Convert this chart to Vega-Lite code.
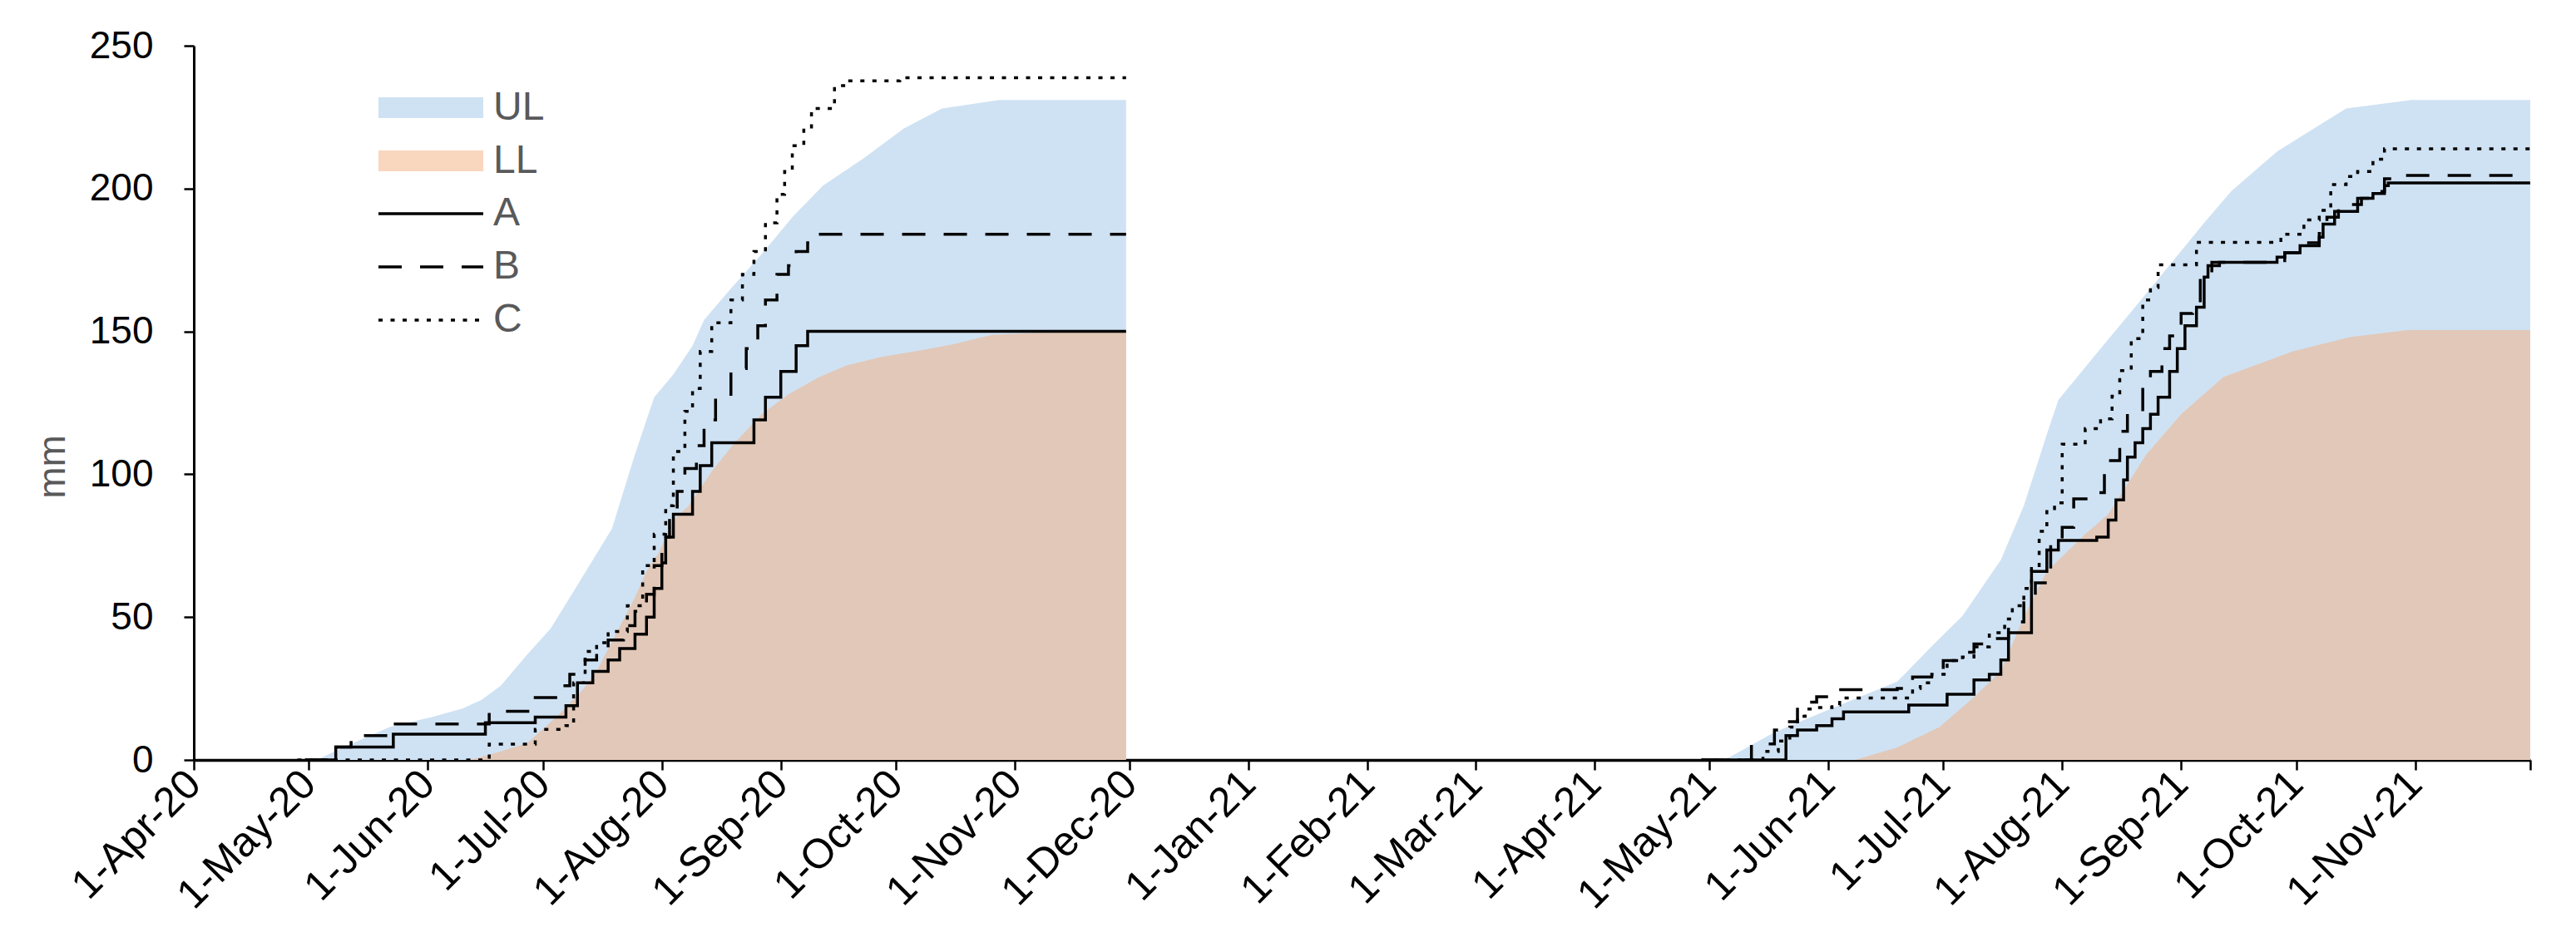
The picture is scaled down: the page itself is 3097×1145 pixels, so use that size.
{
  "$schema": "https://vega.github.io/schema/vega-lite/v6.json",
  "autosize": {"type": "none"},
  "width": 2809,
  "height": 859,
  "padding": {"left": 233, "top": 55, "right": 55, "bottom": 231},
  "background": "white",
  "config": {
    "view": {"stroke": null},
    "font": "Liberation Sans"
  },
  "data": {"values": [
    {"s":"UL","g":1,"t":"2020-05-03","v":0},{"s":"UL","g":1,"t":"2020-05-11","v":5},{"s":"UL","g":1,"t":"2020-05-22","v":11.5},{"s":"UL","g":1,"t":"2020-06-02","v":15},{"s":"UL","g":1,"t":"2020-06-10","v":18},{"s":"UL","g":1,"t":"2020-06-15","v":21},{"s":"UL","g":1,"t":"2020-06-20","v":26},{"s":"UL","g":1,"t":"2020-06-27","v":37},{"s":"UL","g":1,"t":"2020-07-03","v":46},{"s":"UL","g":1,"t":"2020-07-09","v":59},{"s":"UL","g":1,"t":"2020-07-14","v":70},{"s":"UL","g":1,"t":"2020-07-19","v":81},{"s":"UL","g":1,"t":"2020-07-25","v":107},{"s":"UL","g":1,"t":"2020-07-30","v":127},{"s":"UL","g":1,"t":"2020-08-04","v":135},{"s":"UL","g":1,"t":"2020-08-09","v":145},{"s":"UL","g":1,"t":"2020-08-12","v":154},{"s":"UL","g":1,"t":"2020-08-19","v":165},{"s":"UL","g":1,"t":"2020-08-27","v":177},{"s":"UL","g":1,"t":"2020-09-04","v":190},{"s":"UL","g":1,"t":"2020-09-12","v":201},{"s":"UL","g":1,"t":"2020-09-23","v":211},{"s":"UL","g":1,"t":"2020-10-03","v":221},{"s":"UL","g":1,"t":"2020-10-13","v":228},{"s":"UL","g":1,"t":"2020-10-28","v":231},{"s":"UL","g":1,"t":"2020-11-30","v":231},
    {"s":"LL","g":1,"t":"2020-06-12","v":0},{"s":"LL","g":1,"t":"2020-06-20","v":3},{"s":"LL","g":1,"t":"2020-06-27","v":6},{"s":"LL","g":1,"t":"2020-07-02","v":12},{"s":"LL","g":1,"t":"2020-07-06","v":17},{"s":"LL","g":1,"t":"2020-07-11","v":24},{"s":"LL","g":1,"t":"2020-07-15","v":31},{"s":"LL","g":1,"t":"2020-07-20","v":44},{"s":"LL","g":1,"t":"2020-07-25","v":57},{"s":"LL","g":1,"t":"2020-07-28","v":66},{"s":"LL","g":1,"t":"2020-07-31","v":72},{"s":"LL","g":1,"t":"2020-08-04","v":84},{"s":"LL","g":1,"t":"2020-08-08","v":89},{"s":"LL","g":1,"t":"2020-08-14","v":101},{"s":"LL","g":1,"t":"2020-08-20","v":111},{"s":"LL","g":1,"t":"2020-08-27","v":121},{"s":"LL","g":1,"t":"2020-09-03","v":128},{"s":"LL","g":1,"t":"2020-09-11","v":134},{"s":"LL","g":1,"t":"2020-09-18","v":138},{"s":"LL","g":1,"t":"2020-09-27","v":141},{"s":"LL","g":1,"t":"2020-10-08","v":143.5},{"s":"LL","g":1,"t":"2020-10-16","v":145.5},{"s":"LL","g":1,"t":"2020-10-26","v":148.8},{"s":"LL","g":1,"t":"2020-11-07","v":149.5},{"s":"LL","g":1,"t":"2020-11-30","v":150},
    {"s":"UL","g":2,"t":"2021-05-05","v":0},{"s":"UL","g":2,"t":"2021-05-18","v":9.7},{"s":"UL","g":2,"t":"2021-06-03","v":18.6},{"s":"UL","g":2,"t":"2021-06-19","v":27.4},{"s":"UL","g":2,"t":"2021-06-28","v":39.8},{"s":"UL","g":2,"t":"2021-07-06","v":50.4},{"s":"UL","g":2,"t":"2021-07-16","v":70},{"s":"UL","g":2,"t":"2021-07-22","v":89},{"s":"UL","g":2,"t":"2021-07-28","v":114},{"s":"UL","g":2,"t":"2021-07-31","v":126},{"s":"UL","g":2,"t":"2021-08-11","v":144},{"s":"UL","g":2,"t":"2021-08-24","v":165},{"s":"UL","g":2,"t":"2021-09-07","v":188},{"s":"UL","g":2,"t":"2021-09-14","v":199},{"s":"UL","g":2,"t":"2021-09-26","v":213},{"s":"UL","g":2,"t":"2021-10-14","v":228},{"s":"UL","g":2,"t":"2021-10-31","v":231},{"s":"UL","g":2,"t":"2021-12-01","v":231},
    {"s":"LL","g":2,"t":"2021-06-08","v":0},{"s":"LL","g":2,"t":"2021-06-19","v":4.4},{"s":"LL","g":2,"t":"2021-06-30","v":11.5},{"s":"LL","g":2,"t":"2021-07-09","v":22},{"s":"LL","g":2,"t":"2021-07-16","v":31},{"s":"LL","g":2,"t":"2021-07-22","v":50},{"s":"LL","g":2,"t":"2021-07-28","v":66},{"s":"LL","g":2,"t":"2021-08-07","v":79},{"s":"LL","g":2,"t":"2021-08-13","v":86},{"s":"LL","g":2,"t":"2021-08-23","v":107},{"s":"LL","g":2,"t":"2021-09-01","v":121},{"s":"LL","g":2,"t":"2021-09-12","v":134},{"s":"LL","g":2,"t":"2021-09-30","v":143},{"s":"LL","g":2,"t":"2021-10-15","v":148},{"s":"LL","g":2,"t":"2021-10-30","v":150.5},{"s":"LL","g":2,"t":"2021-12-01","v":150.5},
    {"s":"A","g":1,"t":"2020-04-30","v":0},{"s":"A","g":1,"t":"2020-05-08","v":4.5},{"s":"A","g":1,"t":"2020-05-23","v":9},{"s":"A","g":1,"t":"2020-06-16","v":13},{"s":"A","g":1,"t":"2020-06-29","v":15},{"s":"A","g":1,"t":"2020-07-07","v":19},{"s":"A","g":1,"t":"2020-07-10","v":27},{"s":"A","g":1,"t":"2020-07-14","v":31},{"s":"A","g":1,"t":"2020-07-18","v":35},{"s":"A","g":1,"t":"2020-07-21","v":39},{"s":"A","g":1,"t":"2020-07-25","v":44},{"s":"A","g":1,"t":"2020-07-28","v":50},{"s":"A","g":1,"t":"2020-07-30","v":60},{"s":"A","g":1,"t":"2020-08-01","v":69},{"s":"A","g":1,"t":"2020-08-02","v":78},{"s":"A","g":1,"t":"2020-08-04","v":86},{"s":"A","g":1,"t":"2020-08-09","v":94},{"s":"A","g":1,"t":"2020-08-11","v":103},{"s":"A","g":1,"t":"2020-08-14","v":111},{"s":"A","g":1,"t":"2020-08-25","v":119},{"s":"A","g":1,"t":"2020-08-28","v":127},{"s":"A","g":1,"t":"2020-09-01","v":136},{"s":"A","g":1,"t":"2020-09-05","v":145},{"s":"A","g":1,"t":"2020-09-08","v":150},{"s":"A","g":1,"t":"2020-11-30","v":150},
    {"s":"B","g":1,"t":"2020-04-30","v":0},{"s":"B","g":1,"t":"2020-05-08","v":4.5},{"s":"B","g":1,"t":"2020-05-12","v":8.5},{"s":"B","g":1,"t":"2020-05-23","v":12.6},{"s":"B","g":1,"t":"2020-06-17","v":17},{"s":"B","g":1,"t":"2020-06-29","v":21.8},{"s":"B","g":1,"t":"2020-07-06","v":26},{"s":"B","g":1,"t":"2020-07-08","v":30},{"s":"B","g":1,"t":"2020-07-12","v":35},{"s":"B","g":1,"t":"2020-07-15","v":39},{"s":"B","g":1,"t":"2020-07-18","v":42},{"s":"B","g":1,"t":"2020-07-22","v":47},{"s":"B","g":1,"t":"2020-07-25","v":52},{"s":"B","g":1,"t":"2020-07-28","v":58},{"s":"B","g":1,"t":"2020-07-30","v":68},{"s":"B","g":1,"t":"2020-08-01","v":78},{"s":"B","g":1,"t":"2020-08-03","v":86},{"s":"B","g":1,"t":"2020-08-05","v":94},{"s":"B","g":1,"t":"2020-08-07","v":102},{"s":"B","g":1,"t":"2020-08-10","v":110},{"s":"B","g":1,"t":"2020-08-12","v":119},{"s":"B","g":1,"t":"2020-08-15","v":128},{"s":"B","g":1,"t":"2020-08-19","v":137},{"s":"B","g":1,"t":"2020-08-23","v":144},{"s":"B","g":1,"t":"2020-08-26","v":152},{"s":"B","g":1,"t":"2020-08-28","v":161},{"s":"B","g":1,"t":"2020-08-31","v":170},{"s":"B","g":1,"t":"2020-09-03","v":173},{"s":"B","g":1,"t":"2020-09-05","v":178},{"s":"B","g":1,"t":"2020-09-08","v":181},{"s":"B","g":1,"t":"2020-09-10","v":184},{"s":"B","g":1,"t":"2020-11-30","v":184},
    {"s":"C","g":1,"t":"2020-04-28","v":0},{"s":"C","g":1,"t":"2020-06-17","v":5.5},{"s":"C","g":1,"t":"2020-06-29","v":10.7},{"s":"C","g":1,"t":"2020-07-07","v":12},{"s":"C","g":1,"t":"2020-07-09","v":27},{"s":"C","g":1,"t":"2020-07-12","v":38},{"s":"C","g":1,"t":"2020-07-15","v":41},{"s":"C","g":1,"t":"2020-07-18","v":45},{"s":"C","g":1,"t":"2020-07-23","v":54},{"s":"C","g":1,"t":"2020-07-27","v":68},{"s":"C","g":1,"t":"2020-07-30","v":79},{"s":"C","g":1,"t":"2020-08-02","v":89},{"s":"C","g":1,"t":"2020-08-04","v":108},{"s":"C","g":1,"t":"2020-08-07","v":122},{"s":"C","g":1,"t":"2020-08-09","v":130},{"s":"C","g":1,"t":"2020-08-11","v":143},{"s":"C","g":1,"t":"2020-08-14","v":153},{"s":"C","g":1,"t":"2020-08-19","v":161},{"s":"C","g":1,"t":"2020-08-22","v":170},{"s":"C","g":1,"t":"2020-08-25","v":178},{"s":"C","g":1,"t":"2020-08-28","v":188},{"s":"C","g":1,"t":"2020-08-31","v":198},{"s":"C","g":1,"t":"2020-09-02","v":206},{"s":"C","g":1,"t":"2020-09-04","v":215},{"s":"C","g":1,"t":"2020-09-07","v":221},{"s":"C","g":1,"t":"2020-09-09","v":228},{"s":"C","g":1,"t":"2020-09-15","v":236},{"s":"C","g":1,"t":"2020-09-18","v":237.7},{"s":"C","g":1,"t":"2020-10-02","v":238.8},{"s":"C","g":1,"t":"2020-11-30","v":238.8},
    {"s":"A","g":2,"t":"2021-04-29","v":0},{"s":"A","g":2,"t":"2021-05-21","v":8.5},{"s":"A","g":2,"t":"2021-05-24","v":10.5},{"s":"A","g":2,"t":"2021-05-29","v":12},{"s":"A","g":2,"t":"2021-06-02","v":14.4},{"s":"A","g":2,"t":"2021-06-05","v":16.8},{"s":"A","g":2,"t":"2021-06-22","v":19.2},{"s":"A","g":2,"t":"2021-07-02","v":23},{"s":"A","g":2,"t":"2021-07-09","v":28},{"s":"A","g":2,"t":"2021-07-13","v":30},{"s":"A","g":2,"t":"2021-07-16","v":35},{"s":"A","g":2,"t":"2021-07-18","v":44.5},{"s":"A","g":2,"t":"2021-07-24","v":66},{"s":"A","g":2,"t":"2021-07-28","v":73.5},{"s":"A","g":2,"t":"2021-07-31","v":76.8},{"s":"A","g":2,"t":"2021-08-10","v":78},{"s":"A","g":2,"t":"2021-08-13","v":84},{"s":"A","g":2,"t":"2021-08-15","v":91},{"s":"A","g":2,"t":"2021-08-17","v":98},{"s":"A","g":2,"t":"2021-08-18","v":106},{"s":"A","g":2,"t":"2021-08-20","v":111},{"s":"A","g":2,"t":"2021-08-22","v":116},{"s":"A","g":2,"t":"2021-08-24","v":121},{"s":"A","g":2,"t":"2021-08-26","v":127},{"s":"A","g":2,"t":"2021-08-29","v":136},{"s":"A","g":2,"t":"2021-08-31","v":144},{"s":"A","g":2,"t":"2021-09-02","v":152},{"s":"A","g":2,"t":"2021-09-05","v":158.5},{"s":"A","g":2,"t":"2021-09-07","v":169},{"s":"A","g":2,"t":"2021-09-08","v":173},{"s":"A","g":2,"t":"2021-09-11","v":174.2},{"s":"A","g":2,"t":"2021-09-26","v":176},{"s":"A","g":2,"t":"2021-09-28","v":177.5},{"s":"A","g":2,"t":"2021-10-02","v":180},{"s":"A","g":2,"t":"2021-10-07","v":183},{"s":"A","g":2,"t":"2021-10-08","v":187.6},{"s":"A","g":2,"t":"2021-10-11","v":192},{"s":"A","g":2,"t":"2021-10-17","v":196.6},{"s":"A","g":2,"t":"2021-10-21","v":198.3},{"s":"A","g":2,"t":"2021-10-24","v":201},{"s":"A","g":2,"t":"2021-10-25","v":202},{"s":"A","g":2,"t":"2021-12-01","v":202},
    {"s":"B","g":2,"t":"2021-04-29","v":0},{"s":"B","g":2,"t":"2021-05-12","v":5.6},{"s":"B","g":2,"t":"2021-05-18","v":10.5},{"s":"B","g":2,"t":"2021-05-21","v":13.4},{"s":"B","g":2,"t":"2021-05-24","v":20.2},{"s":"B","g":2,"t":"2021-05-29","v":22.1},{"s":"B","g":2,"t":"2021-06-03","v":24.6},{"s":"B","g":2,"t":"2021-06-19","v":25},{"s":"B","g":2,"t":"2021-06-23","v":29},{"s":"B","g":2,"t":"2021-06-28","v":31},{"s":"B","g":2,"t":"2021-07-01","v":34.8},{"s":"B","g":2,"t":"2021-07-06","v":37.7},{"s":"B","g":2,"t":"2021-07-09","v":40.6},{"s":"B","g":2,"t":"2021-07-13","v":42.5},{"s":"B","g":2,"t":"2021-07-18","v":48.3},{"s":"B","g":2,"t":"2021-07-22","v":55},{"s":"B","g":2,"t":"2021-07-25","v":62},{"s":"B","g":2,"t":"2021-07-29","v":77.5},{"s":"B","g":2,"t":"2021-08-01","v":81.4},{"s":"B","g":2,"t":"2021-08-04","v":91.4},{"s":"B","g":2,"t":"2021-08-08","v":93.6},{"s":"B","g":2,"t":"2021-08-12","v":104.8},{"s":"B","g":2,"t":"2021-08-16","v":115},{"s":"B","g":2,"t":"2021-08-18","v":121.6},{"s":"B","g":2,"t":"2021-08-22","v":132.8},{"s":"B","g":2,"t":"2021-08-24","v":136},{"s":"B","g":2,"t":"2021-08-27","v":144},{"s":"B","g":2,"t":"2021-08-29","v":148.4},{"s":"B","g":2,"t":"2021-09-01","v":156.3},{"s":"B","g":2,"t":"2021-09-04","v":159.6},{"s":"B","g":2,"t":"2021-09-06","v":169.7},{"s":"B","g":2,"t":"2021-09-09","v":174.2},{"s":"B","g":2,"t":"2021-09-26","v":174.8},{"s":"B","g":2,"t":"2021-09-28","v":177.5},{"s":"B","g":2,"t":"2021-10-03","v":181},{"s":"B","g":2,"t":"2021-10-07","v":184.3},{"s":"B","g":2,"t":"2021-10-09","v":190},{"s":"B","g":2,"t":"2021-10-12","v":194.4},{"s":"B","g":2,"t":"2021-10-18","v":196.6},{"s":"B","g":2,"t":"2021-10-21","v":199},{"s":"B","g":2,"t":"2021-10-24","v":203.4},{"s":"B","g":2,"t":"2021-10-26","v":204.6},{"s":"B","g":2,"t":"2021-12-01","v":204.6},
    {"s":"C","g":2,"t":"2021-04-29","v":0},{"s":"C","g":2,"t":"2021-05-15","v":3},{"s":"C","g":2,"t":"2021-05-19","v":6.6},{"s":"C","g":2,"t":"2021-05-22","v":11.5},{"s":"C","g":2,"t":"2021-05-24","v":15.3},{"s":"C","g":2,"t":"2021-05-26","v":17.8},{"s":"C","g":2,"t":"2021-05-29","v":18.3},{"s":"C","g":2,"t":"2021-06-02","v":19.2},{"s":"C","g":2,"t":"2021-06-04","v":21.7},{"s":"C","g":2,"t":"2021-06-23","v":25},{"s":"C","g":2,"t":"2021-06-25","v":27},{"s":"C","g":2,"t":"2021-06-28","v":30},{"s":"C","g":2,"t":"2021-07-02","v":34.8},{"s":"C","g":2,"t":"2021-07-06","v":36},{"s":"C","g":2,"t":"2021-07-09","v":39.6},{"s":"C","g":2,"t":"2021-07-13","v":44.5},{"s":"C","g":2,"t":"2021-07-17","v":49.3},{"s":"C","g":2,"t":"2021-07-19","v":54},{"s":"C","g":2,"t":"2021-07-22","v":60},{"s":"C","g":2,"t":"2021-07-24","v":67},{"s":"C","g":2,"t":"2021-07-26","v":80},{"s":"C","g":2,"t":"2021-07-28","v":88},{"s":"C","g":2,"t":"2021-07-30","v":90},{"s":"C","g":2,"t":"2021-08-01","v":110.5},{"s":"C","g":2,"t":"2021-08-07","v":116},{"s":"C","g":2,"t":"2021-08-11","v":119.4},{"s":"C","g":2,"t":"2021-08-14","v":127.3},{"s":"C","g":2,"t":"2021-08-16","v":136.3},{"s":"C","g":2,"t":"2021-08-19","v":147.5},{"s":"C","g":2,"t":"2021-08-22","v":161},{"s":"C","g":2,"t":"2021-08-24","v":165.4},{"s":"C","g":2,"t":"2021-08-26","v":173.3},{"s":"C","g":2,"t":"2021-09-05","v":181.2},{"s":"C","g":2,"t":"2021-09-27","v":184},{"s":"C","g":2,"t":"2021-10-03","v":189},{"s":"C","g":2,"t":"2021-10-07","v":192.4},{"s":"C","g":2,"t":"2021-10-10","v":201.4},{"s":"C","g":2,"t":"2021-10-14","v":204.2},{"s":"C","g":2,"t":"2021-10-17","v":206},{"s":"C","g":2,"t":"2021-10-21","v":210.3},{"s":"C","g":2,"t":"2021-10-24","v":213.9},{"s":"C","g":2,"t":"2021-12-01","v":213.9}
  ]},
  "encoding": {
    "x": {
      "field": "t", "type": "temporal",
      "scale": {"type": "utc", "domain": [{"year": 2020, "month": 4, "date": 1, "utc": true}, {"year": 2021, "month": 12, "date": 1, "utc": true}]},
      "axis": {
        "title": null, "grid": false,
        "tickCount": {"interval": "month", "step": 1},
        "labelExpr": "datum.value >= utc(2021,11,1) ? '' : utcFormat(datum.value, '%-d-%b-%y')",
        "labelAngle": -45, "labelAlign": "right", "labelBaseline": "middle",
        "labelFont": "Liberation Sans", "labelFontSize": 50, "labelColor": "#000000",
        "labelPadding": 9, "labelLimit": 0, "labelOverlap": false, "labelFlush": false, "labelBound": false,
        "tickSize": 12, "tickWidth": 2.5, "tickColor": "#000000",
        "domainColor": "#000000", "domainWidth": 3.5
      }
    },
    "y": {
      "field": "v", "type": "quantitative", "stack": null,
      "scale": {"domain": [0, 250], "nice": false},
      "axis": {
        "title": "mm", "grid": false, "values": [0, 50, 100, 150, 200, 250],
        "titleFont": "Liberation Sans", "titleFontSize": 46, "titleFontWeight": "normal", "titleColor": "#595959",
        "titleX": -170, "titleY": 506, "titleAngle": -90, "titleAlign": "center", "titleBaseline": "middle",
        "labelFont": "Liberation Sans", "labelFontSize": 46, "labelColor": "#000000", "labelPadding": 37,
        "tickSize": 12, "tickWidth": 2.5, "tickColor": "#000000",
        "domainColor": "#000000", "domainWidth": 3
      }
    }
  },
  "layer": [
    {
      "transform": [{"filter": "datum.s == 'UL'"}],
      "mark": {"type": "area", "interpolate": "linear"},
      "encoding": {
        "detail": {"field": "g", "type": "nominal"},
        "fill": {"field": "s", "type": "nominal", "scale": {"domain": ["UL", "LL"], "range": ["#CFE2F3", "#F4B183"]},
          "legend": {"title": null, "orient": "none", "legendX": 222, "legendY": 50.5, "padding": 0, "symbolType": "M-4.2,-0.83H4.2V0.83H-4.2Z", "symbolSize": 900, "symbolStrokeWidth": 0, "symbolOffset": 39, "labelOffset": 51, "rowPadding": 16, "labelFont": "Liberation Sans", "labelFontSize": 48, "labelColor": "#595959"}},
        "opacity": {"field": "s", "type": "nominal", "scale": {"domain": ["UL", "LL"], "range": [1, 0.52]},
          "legend": {"title": null, "orient": "none", "legendX": 222, "legendY": 50.5, "padding": 0, "symbolType": "M-4.2,-0.83H4.2V0.83H-4.2Z", "symbolSize": 900, "symbolStrokeWidth": 0, "symbolOffset": 39, "labelOffset": 51, "rowPadding": 16, "labelFont": "Liberation Sans", "labelFontSize": 48, "labelColor": "#595959"}}
      }
    },
    {
      "transform": [{"filter": "datum.s == 'LL'"}],
      "mark": {"type": "area", "interpolate": "linear"},
      "encoding": {
        "detail": {"field": "g", "type": "nominal"},
        "fill": {"field": "s", "type": "nominal"},
        "opacity": {"field": "s", "type": "nominal"}
      }
    },
    {
      "transform": [{"filter": "datum.s == 'A' || datum.s == 'B' || datum.s == 'C'"}],
      "mark": {"type": "line", "interpolate": "step-after", "color": "#000000", "strokeWidth": 3.5, "strokeCap": "butt"},
      "encoding": {
        "detail": {"field": "g", "type": "nominal"},
        "strokeDash": {"field": "s", "type": "nominal", "scale": {"domain": ["A", "B", "C"], "range": [[1, 0], [28, 22], [5, 9.5]]},
          "legend": {"title": null, "orient": "none", "legendX": 222, "legendY": 178, "padding": 0, "symbolType": "M-4.2,0H4.2", "symbolSize": 900, "symbolStrokeWidth": 3.5, "symbolStrokeColor": "#000000", "symbolFillColor": "transparent", "symbolOffset": 39, "labelOffset": 51, "rowPadding": 16, "labelFont": "Liberation Sans", "labelFontSize": 48, "labelColor": "#595959"}}
      }
    }
  ]
}
